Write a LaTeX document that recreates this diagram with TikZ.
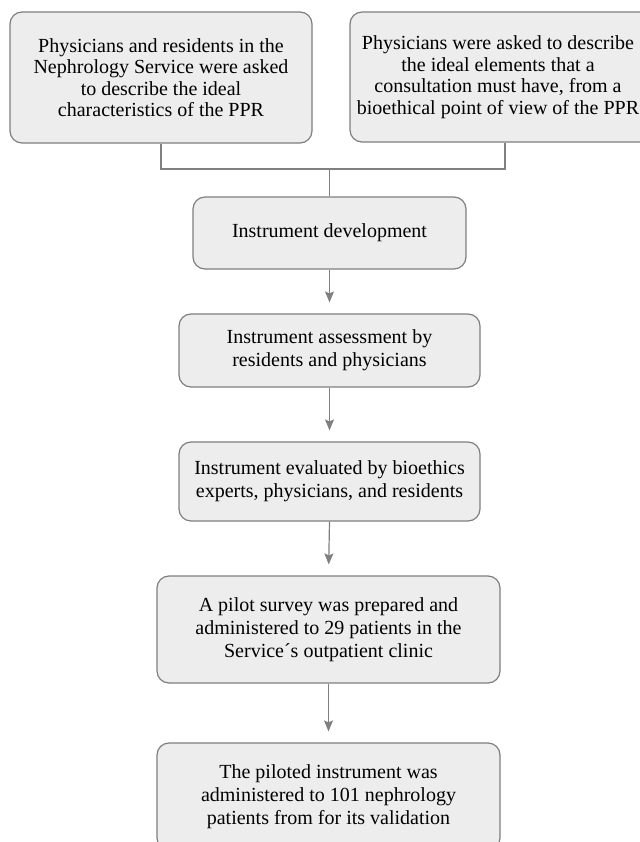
\documentclass[tikz,border=0pt]{standalone}
\usepackage{fontspec}
\setmainfont{Liberation Serif}
\usetikzlibrary{arrows.meta}
\definecolor{boxfill}{HTML}{EDEDED}
\definecolor{boxline}{HTML}{7F7F7F}
\definecolor{conn}{HTML}{808080}
\begin{document}
\begin{tikzpicture}[x=1bp,y=-1bp,
  flowbox/.style={draw=boxline, fill=boxfill, line width=1.2bp, rounded corners=12bp,
    align=center, inner sep=0pt, font=\fontsize{20bp}{23bp}\selectfont, text=black},
  topbox/.style={flowbox, font=\fontsize{20bp}{21.5bp}\selectfont},
  toptext/.style={align=center, inner sep=0pt, font=\fontsize{20bp}{21.5bp}\selectfont, text=black},
  link/.style={draw=conn, line width=1.2bp},
  arr/.style={link, -{Stealth[length=11bp,width=9bp,inset=2bp]}, shorten >=11bp}]
\clip (0,0) rectangle (640,842);
\fill[white] (0,0) rectangle (640,842);
\node[topbox, minimum width=302bp, minimum height=131bp] (A) at (161,77.5)
  {Physicians and residents in the\\Nephrology Service were asked\\to describe the ideal\\characteristics of the PPR};
\node[topbox, minimum width=310bp, minimum height=130bp,
  label={[toptext, xshift=-7bp]center:Physicians were asked to describe\\the ideal elements that a\\consultation must have, from a\\bioethical point of view of the PPR}] (B) at (505,77) {};
\node[flowbox, minimum width=273bp, minimum height=72bp] (C) at (329.5,233)
  {Instrument development};
\node[flowbox, minimum width=301bp, minimum height=73bp] (D) at (329.5,350.5)
  {Instrument assessment by\\residents and physicians};
\node[flowbox, minimum width=301bp, minimum height=79bp] (E) at (329.5,481.5)
  {Instrument evaluated by bioethics\\experts, physicians, and residents};
\node[flowbox, minimum width=343bp, minimum height=107bp] (F) at (328.5,629.5)
  {A pilot survey was prepared and\\administered to 29 patients in the\\Service´s outpatient clinic};
\node[flowbox, minimum width=343bp, minimum height=107bp] (G) at (328.5,796.5)
  {The piloted instrument was\\administered to 101 nephrology\\patients from for its validation};
\coordinate (J) at (329.5,169);
\draw[link] (A.south) |- (J) -| (B.south);
\draw[link] (J) -- (C.north);
\draw[arr] (C.south) -- (D.north);
\draw[arr] (D.south) -- (E.north);
\draw[arr] (E.south) -- (F.north);
\draw[arr] (F.south) -- (G.north);
\end{tikzpicture}
\end{document}
